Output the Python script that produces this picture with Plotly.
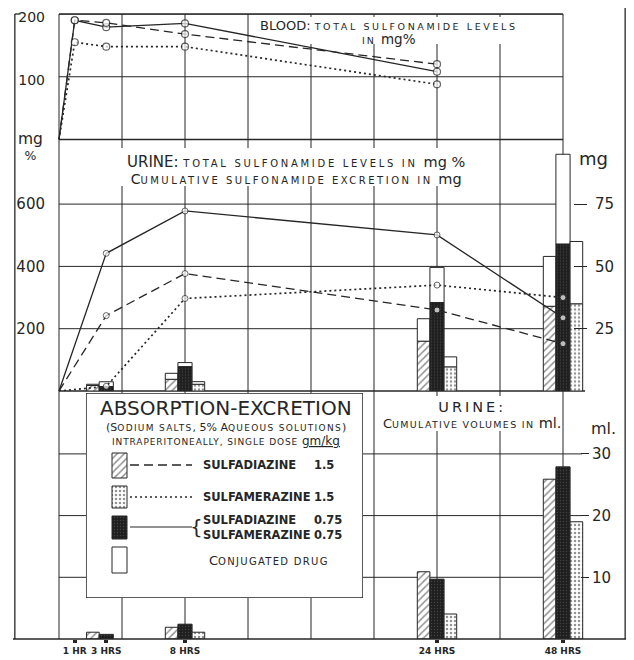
import plotly.graph_objects as go

# ---------------- data ----------------
# Blood: total sulfonamide levels, mg %
blood_hours = [0, 1, 3, 8, 24]
blood_sdz_15 = [0, 190, 186, 168, 120]     # sulfadiazine 1.5 gm/kg (dashed)
blood_smz_15 = [0, 155, 148, 148, 88]      # sulfamerazine 1.5 gm/kg (dotted)
blood_mix_075 = [0, 190, 179, 185, 108]    # sulfadiazine 0.75 + sulfamerazine 0.75 (solid)

# Urine: total sulfonamide levels, mg %
urine_hours = [0, 3, 8, 24, 48]
urine_sdz_15 = [0, 242, 377, 260, 152]
urine_smz_15 = [0, 15, 297, 340, 300]
urine_mix_075 = [0, 442, 578, 501, 235]

# Urine: cumulative sulfonamide excretion, mg (free drug + conjugated drug)
bar_hours = [3, 8, 24, 48]
excr_sdz_free = [2.2, 4.7, 20.0, 34.0]
excr_sdz_conj = [0.5, 2.4, 9.0, 20.0]
excr_mix_free = [1.8, 9.8, 35.5, 59.0]
excr_mix_conj = [1.9, 1.6, 14.1, 36.0]
excr_smz_free = [None, 2.7, 9.7, 35.0]
excr_smz_conj = [None, 1.05, 4.0, 25.0]

# Urine: cumulative volumes, ml
vol_sdz = [1.1, 1.9, 10.9, 25.9]
vol_mix = [0.75, 2.4, 9.7, 27.9]
vol_smz = [None, 1.1, 4.05, 19.0]

tick_hours = [1, 3, 8, 24, 48]
tick_labels = ["1 HR", "3 HRS", "8 HRS", "24 HRS", "48 HRS"]
blood_ticks = [100, 200]
conc_ticks = [200, 400, 600]
mg_ticks = [25, 50, 75]
ml_ticks = [10, 20, 30]

# ---------------- scales ----------------
# the time axis is linear up to 24 h (grid every 4 h); 48 h is drawn at the right edge (axis break)
AXIS_BREAK = {48: 32}
def hpos(hours):
    return [AXIS_BREAK.get(h, h) for h in hours]

MG_PER_MGPCT = 1 / 8.0          # 600 mg% on the left scale = 75 mg on the right scale

W, H = 634, 660
PAGE_OFF = 8                     # default page margin around the figure
ML, MR, MT, MB = 13, 7, 14, 21   # wanted plot-area edges in the window
PW, PH = W - ML - MR, H - MT - MB
PX_PER_HR = 15.75
X0 = 59                          # window pixel of hour 0
X_RANGE = [(ML - X0) / PX_PER_HR, (W - MR - X0) / PX_PER_HR]

def px2x(p):
    return (p - ML) / PW

def px2y(p):
    return (H - MB - p) / PH

Y_BLOOD0, Y_MID0, Y_BOT0 = 139.5, 391, 639
BLOOD_DOM = [px2y(Y_BLOOD0), 1.0]
MID_DOM = [px2y(Y_MID0), px2y(Y_BLOOD0)]
BOT_DOM = [0.0, px2y(Y_MID0)]
BLOOD_TOP = 200
MG_TOP = (Y_MID0 - Y_BLOOD0) / 62.3 * 25
ML_TOP = (Y_BOT0 - Y_MID0) / 61.7 * 10

INK = "#262626"
FONT = "DejaVu Sans"
NUMFONT = dict(family=FONT, size=15, color=INK)

fig = go.Figure()

DASH = "9px,5px"
DOT = "2px,3px"
line_styles = [("solid", 1.3), (DASH, 1.3), (DOT, 1.7)]

# ---------------- bars (middle: mg, bottom: ml) ----------------
def pat(shape, fg, bg, size, sol):
    return dict(shape=shape, fgcolor=fg, bgcolor=bg, size=size, solidity=sol)

HATCH = dict(color="white", line=dict(color=INK, width=1), pattern=pat("/", INK, "white", 5, 0.3))
STIPPLE = dict(color="white", line=dict(color=INK, width=1), pattern=pat(".", INK, "white", 4, 0.3))
DARK = dict(color="#1f1f1f", line=dict(color=INK, width=1), pattern=pat(".", "#6a6a6a", "#1f1f1f", 3, 0.15))
WHITE = dict(color="white", line=dict(color=INK, width=1))

groups = [
    (excr_sdz_free, excr_sdz_conj, vol_sdz, HATCH, -1.25, 0.8),
    (excr_mix_free, excr_mix_conj, vol_mix, DARK, -0.45, 0.9),
    (excr_smz_free, excr_smz_conj, vol_smz, STIPPLE, 0.45, 0.8),
]
for free, conj, vol, style, off, wd in groups:
    xs = hpos(bar_hours)
    fig.add_trace(go.Bar(x=xs, y=free, xaxis="x", yaxis="y2", offset=off, width=wd, marker=style))
    fig.add_trace(go.Bar(x=xs, y=conj, base=free, xaxis="x", yaxis="y2", offset=off, width=wd, marker=WHITE))
    fig.add_trace(go.Bar(x=xs, y=vol, xaxis="x", yaxis="y3", offset=off, width=wd, marker=style))

# ---------------- lines ----------------
for vals, (dash, w) in zip([blood_mix_075, blood_sdz_15, blood_smz_15], line_styles):
    fig.add_trace(go.Scatter(
        x=hpos(blood_hours), y=vals, xaxis="x", yaxis="y", mode="lines+markers",
        line=dict(color=INK, width=w, dash=dash),
        marker=dict(size=[0] + [7] * (len(vals) - 1), color="white", line=dict(color=INK, width=1.2)),
        cliponaxis=False))

for vals, (dash, w) in zip([urine_mix_075, urine_sdz_15, urine_smz_15], line_styles):
    fig.add_trace(go.Scatter(
        x=hpos(urine_hours), y=vals, xaxis="x", yaxis="y5", mode="lines+markers",
        line=dict(color=INK, width=w, dash=dash),
        marker=dict(size=[0] + [6] * (len(vals) - 1), color="white", line=dict(color=INK, width=1)),
        cliponaxis=False))

# ---------------- legend box (its own small axes, units = pixels) ----------------
LEG_L, LEG_R, LEG_T, LEG_B = 86, 363, 393, 598
LEG_W, LEG_H = LEG_R - LEG_L, LEG_B - LEG_T
sw_x, sw_w = 33.5, 15
swatches = [(60, 25, HATCH), (93, 22, STIPPLE), (123, 23, DARK), (154, 26, WHITE)]
for top, hgt, style in swatches:
    fig.add_trace(go.Bar(x=[sw_x], y=[hgt], base=[top], width=sw_w, xaxis="x2", yaxis="y4", marker=style))

shapes = []
shapes.append(dict(type="rect", xref="x2", yref="y4", x0=0, x1=LEG_W, y0=0, y1=LEG_H,
                   fillcolor="white", line=dict(color=INK, width=1.5), layer="below"))
for ly, dash, w in [(72, DASH, 1.3), (104, DOT, 1.7), (134, "solid", 1.2)]:
    shapes.append(dict(type="line", xref="x2", yref="y4", x0=44, x1=106, y0=ly, y1=ly,
                       line=dict(color=INK, width=w, dash=dash), layer="above"))

# ---------------- grid ----------------
GL = dict(color=INK, width=1)
for h in range(0, 33, 4):
    shapes.append(dict(type="line", xref="x", yref="paper", x0=h, x1=h, y0=0, y1=1, line=GL, layer="below"))
# white patches behind the panel titles: they break the vertical grid lines but stay under the data
for l, r, t, b in [(250, 528, 17, 44), (103, 486, 148, 186), (378, 561, 396, 431)]:
    shapes.append(dict(type="rect", xref="paper", yref="paper", x0=px2x(l), x1=px2x(r), y0=px2y(b), y1=px2y(t),
                       fillcolor="white", line=dict(width=0), layer="below"))
for v in blood_ticks:
    shapes.append(dict(type="line", xref="x", yref="y", x0=0, x1=32, y0=v, y1=v, line=GL, layer="below"))
shapes.append(dict(type="line", xref="x", yref="paper", x0=0, x1=32, y0=1, y1=1, line=dict(color=INK, width=1.5), layer="below"))
shapes.append(dict(type="line", xref="x", yref="paper", x0=0, x1=32, y0=BLOOD_DOM[0], y1=BLOOD_DOM[0], line=dict(color=INK, width=1.5), layer="below"))
for v in mg_ticks:
    shapes.append(dict(type="line", xref="x", yref="y2", x0=0, x1=32, y0=v, y1=v, line=GL, layer="below"))
shapes.append(dict(type="line", xref="x", yref="paper", x0=0, x1=33.4, y0=MID_DOM[0], y1=MID_DOM[0], line=dict(color=INK, width=1.5), layer="below"))
for v in ml_ticks:
    shapes.append(dict(type="line", xref="x", yref="y3", x0=0, x1=33.2, y0=v, y1=v, line=GL, layer="below"))
FR = dict(color=INK, width=1.3)
shapes.append(dict(type="line", xref="paper", yref="paper", x0=0, x1=1, y0=0, y1=0, line=dict(color=INK, width=1.6)))
shapes.append(dict(type="line", xref="paper", yref="paper", x0=0.003, x1=0.003, y0=0, y1=1, line=FR))
shapes.append(dict(type="line", xref="paper", yref="paper", x0=0.003, x1=0.012, y0=1, y1=1, line=FR))
shapes.append(dict(type="line", xref="paper", yref="paper", x0=0.997, x1=0.997, y0=0, y1=1.014, line=FR))

# ---------------- texts ----------------
def sp(text, size, ls=0, extra=""):
    return f"<span style='font-size:{size}px;letter-spacing:{ls}px{extra}'>{text}</span>"

annotations = []
def ann(text, xp, yp, size=12, xanchor="center", weight="normal", align="center"):
    annotations.append(dict(text=text, x=px2x(xp), y=px2y(yp), xref="paper", yref="paper", showarrow=False,
                            xanchor=xanchor, yanchor="middle", align=align, borderpad=0,
                            font=dict(family=FONT, size=size, color=INK, weight=weight)))

# blood title
ann(sp("BLOOD: ", 13) + sp("TOTAL SULFONAMIDE LEVELS", 9.5, 2.6) + "<br>" + sp("IN ", 9.5, 2) + sp("mg%", 13.5),
    389, 33, size=10.5)
# urine title
ann(sp("URINE: ", 15) + sp("TOTAL SULFONAMIDE LEVELS IN ", 10, 2.7) + sp("mg %", 14.5) + "<br>"
    + sp("C", 14) + sp("UMULATIVE SULFONAMIDE EXCRETION IN ", 10, 2.5) + sp("mg", 14.5),
    296, 170, size=12.8)
# urine volumes title
ann(sp("URINE:", 14.5, 3) + "<br>" + sp("C", 13) + sp("UMULATIVE VOLUMES IN ", 9.5, 1.3) + sp("ml.", 14.5),
    472, 415, size=12.3)
# axis unit labels
ann(sp("mg", 15.5) + "<br>" + sp("%", 12.5), 30, 146, size=12.5)
ann("mg", 593, 158, size=18)
ann("ml.", 603, 428, size=16)

# legend texts
ann("ABSORPTION-EXCRETION", 226, 408, size=20)
ann("(S" + sp("ODIUM SALTS", 9, 1.3) + ", 5% A" + sp("QUEOUS SOLUTIONS", 9, 1.3) + ")", 226, 427, size=11)
ann(sp("INTRAPERITONEALLY, SINGLE DOSE ", 9, 0.9) + sp("gm/kg", 12, 0, ";text-decoration:underline"), 226, 441, size=10)
ann("SULFADIAZINE", 202, 465, size=11.5, xanchor="left", weight="bold")
ann("1.5", 313, 465, size=11.5, xanchor="left", weight="bold")
ann("SULFAMERAZINE", 202, 497, size=11.5, xanchor="left", weight="bold")
ann("1.5", 313, 497, size=11.5, xanchor="left", weight="bold")
ann("{", 196, 527, size=20)
ann("SULFADIAZINE<br>SULFAMERAZINE", 202, 527, size=11.5, xanchor="left", weight="bold", align="left")
ann("0.75<br>0.75", 313, 527, size=11.5, xanchor="left", weight="bold", align="left")
ann("C" + sp("ONJUGATED DRUG", 10, 1.3), 208, 560, size=13, xanchor="left")

common_y = dict(showgrid=False, zeroline=False, showline=False,
                ticklabeloverflow="allow", automargin=False)
fig.update_layout(
    width=W, height=H,
    margin=dict(l=ML - PAGE_OFF, r=MR + PAGE_OFF, t=MT - PAGE_OFF, b=MB + PAGE_OFF, autoexpand=False),
    paper_bgcolor="white", plot_bgcolor="white", barmode="overlay", showlegend=False,
    xaxis=dict(domain=[0, 1], range=X_RANGE, anchor="y3", tickvals=hpos(tick_hours), ticktext=tick_labels,
               ticks="outside", ticklen=3, tickwidth=4, tickcolor=INK, ticklabeloverflow="allow", automargin=False,
               tickfont=dict(family=FONT, size=9, color=INK, weight="bold"),
               showgrid=False, zeroline=False, showline=False),
    yaxis=dict(domain=BLOOD_DOM, range=[0, BLOOD_TOP], anchor="free", position=px2x(45), side="left",
               tickvals=blood_ticks, ticks="", ticklabelshift=3,
               tickfont=dict(family=FONT, size=14, color=INK), **common_y),
    yaxis2=dict(domain=MID_DOM, range=[0, MG_TOP], anchor="free", position=px2x(573), side="right",
                tickvals=mg_ticks, ticks="outside", ticklen=13, tickwidth=1.2, tickcolor=INK,
                ticklabelstandoff=5, tickfont=NUMFONT, **common_y),
    yaxis5=dict(overlaying="y2", range=[0, MG_TOP / MG_PER_MGPCT], anchor="free", position=px2x(45), side="left",
                tickvals=conc_ticks, ticks="", tickfont=NUMFONT, **common_y),
    yaxis3=dict(domain=BOT_DOM, range=[0, ML_TOP], anchor="free", position=px2x(580), side="right",
                tickvals=ml_ticks, ticks="outside", ticklen=8, tickwidth=1.2, tickcolor=INK,
                tickfont=NUMFONT, **common_y),
    xaxis2=dict(domain=[px2x(LEG_L), px2x(LEG_R)], range=[0, LEG_W], anchor="y4", visible=False),
    yaxis4=dict(domain=[px2y(LEG_B), px2y(LEG_T)], range=[LEG_H, 0], anchor="x2", visible=False),
    shapes=shapes, annotations=annotations,
)

fig.write_html("out.html")
